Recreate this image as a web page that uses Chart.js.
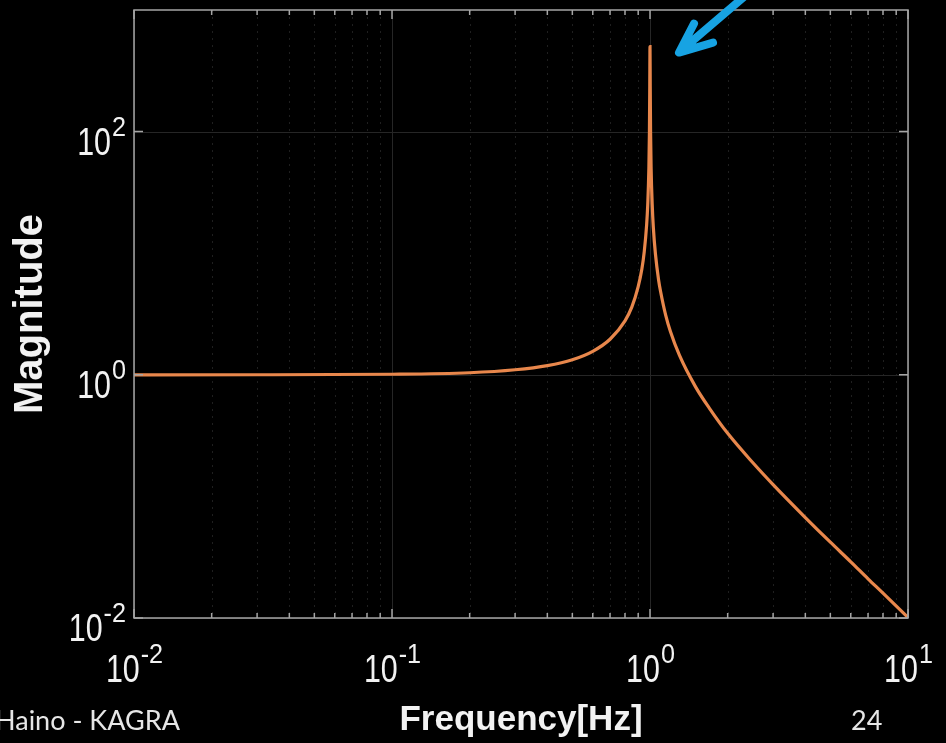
<!DOCTYPE html>
<html>
<head>
<meta charset="utf-8">
<script src="https://cdn.jsdelivr.net/npm/chart.js@4"></script>
<style>
  body { margin:0; background:#000; overflow:hidden; }
  #wrap { position:relative; width:946px; height:743px; }
  .foot { position:absolute; color:#e6e6e6; font-family: Lato, 'Open Sans', sans-serif; font-size:27px; line-height:30px; }
</style>
</head>
<body>
<div id="wrap">
  <canvas id="bode" width="946" height="743"></canvas>
  <div class="foot" style="left:-5px; top:705px">Haino - KAGRA</div>
  <div class="foot" style="left:851px; top:705px">24</div>
</div>
<script>
// frequency [Hz] and magnitude
const freq = [0.01, 0.03, 0.1, 0.2, 0.3, 0.4, 0.5, 0.6, 0.7, 0.8, 0.85, 0.9, 0.93, 0.95, 0.97, 0.98,
              0.99, 0.995, 0.998, 1.0, 1.002, 1.005, 1.01, 1.02, 1.03, 1.05, 1.08, 1.1, 1.15, 1.2,
              1.3, 1.5, 1.7, 2, 2.5, 3, 4, 5, 6, 7, 8, 10];
const mag  = [1.0, 1.001, 1.01, 1.04, 1.10, 1.19, 1.33, 1.56, 1.96, 2.78, 3.6, 5.3, 7.4, 10.3, 16.9, 25,
              50, 100, 240, 500, 240, 100, 50, 25, 16.4, 9.8, 6.0, 4.8, 3.1, 2.27,
              1.45, 0.8, 0.53, 0.33, 0.19, 0.125, 0.067, 0.042, 0.029, 0.021, 0.016, 0.0101];

const xMajor = [0.01, 0.1, 1, 10];
const xExp   = ['-2', '-1', '0', '1'];
const yMajor = [0.01, 1, 100];
const yExp   = ['-2', '0', '2'];

const LINE = '#e8874c';
const ARROW = '#17a3e3';
const FONT = '"Liberation Sans", Arial, sans-serif';

// minor positions 2..9 in each x decade
var xMinor = [];
[0.01, 0.1, 1].forEach(function(d){ for (var k = 2; k <= 9; k++) xMinor.push(k * d); });

function drawPow(ctx, exp, x, y, align) {
    // "10" in a narrowed face with the exponent raised
    ctx.save();
    ctx.textBaseline = 'alphabetic';
    ctx.textAlign = 'left';
    ctx.fillStyle = '#f2f2f2';
    ctx.font = '38px ' + FONT;
    var w10 = ctx.measureText('10').width * 0.8;
    ctx.font = '28px ' + FONT;
    var wE = ctx.measureText(exp).width * 0.9;
    var x0 = align === 'center' ? x - (w10 + wE) / 2 : x - (w10 + wE);

    ctx.save();
    ctx.translate(x0, y); ctx.scale(0.8, 1);
    ctx.font = '38px ' + FONT;
    ctx.fillText('10', 0, 0);
    ctx.restore();

    ctx.save();
    ctx.translate(x0 + w10 + 1, y - 19); ctx.scale(0.9, 1);
    ctx.font = '28px ' + FONT;
    ctx.fillText(exp, 0, 0);
    ctx.restore();
    ctx.restore();
}

const frame = {
    id: 'frame',
    beforeDatasetsDraw(chart) {
        const {ctx, chartArea: a, scales: {x, y}} = chart;
        ctx.save();
        // minor dotted grid
        ctx.strokeStyle = 'rgba(255,255,255,0.12)';
        ctx.lineWidth = 1;
        ctx.setLineDash([2, 5]);
        xMinor.forEach(function(v){
            var px = Math.round(x.getPixelForValue(v)) + 0.5;
            ctx.beginPath(); ctx.moveTo(px, a.top); ctx.lineTo(px, a.bottom); ctx.stroke();
        });
        // major grid
        ctx.setLineDash([]);
        ctx.strokeStyle = '#262626';
        xMajor.forEach(function(v){
            var px = Math.round(x.getPixelForValue(v)) + 0.5;
            ctx.beginPath(); ctx.moveTo(px, a.top); ctx.lineTo(px, a.bottom); ctx.stroke();
        });
        yMajor.forEach(function(v){
            var py = Math.round(y.getPixelForValue(v)) + 0.5;
            ctx.beginPath(); ctx.moveTo(a.left, py); ctx.lineTo(a.right, py); ctx.stroke();
        });
        ctx.restore();
    },
    afterDatasetsDraw(chart) {
        const {ctx, chartArea: a, scales: {x, y}} = chart;
        ctx.save();
        ctx.strokeStyle = '#a5a5a5';
        ctx.lineWidth = 1.5;
        // inward ticks
        ctx.beginPath();
        xMinor.forEach(function(v){
            var px = x.getPixelForValue(v);
            ctx.moveTo(px, a.bottom); ctx.lineTo(px, a.bottom - 5);
            ctx.moveTo(px, a.top); ctx.lineTo(px, a.top + 5);
        });
        xMajor.forEach(function(v){
            var px = x.getPixelForValue(v);
            ctx.moveTo(px, a.bottom); ctx.lineTo(px, a.bottom - 9);
            ctx.moveTo(px, a.top); ctx.lineTo(px, a.top + 9);
        });
        yMajor.forEach(function(v){
            var py = y.getPixelForValue(v);
            ctx.moveTo(a.left, py); ctx.lineTo(a.left + 9, py);
            ctx.moveTo(a.right, py); ctx.lineTo(a.right - 9, py);
        });
        ctx.stroke();
        ctx.strokeRect(a.left, a.top, a.right - a.left, a.bottom - a.top);
        ctx.restore();

        xMajor.forEach(function(v, i){ drawPow(ctx, xExp[i], x.getPixelForValue(v), 682, 'center'); });
        yMajor.forEach(function(v, i){ drawPow(ctx, yExp[i], 125, y.getPixelForValue(v) + 23, 'right'); });
    },
    afterDraw(chart) {
        // blue pointer at the resonance
        const {ctx, scales: {x, y}} = chart;
        var tx = x.getPixelForValue(1) + 29, ty = y.getPixelForValue(500) + 6;
        ctx.save();
        ctx.strokeStyle = ARROW;
        ctx.lineWidth = 8;
        ctx.lineCap = 'round';
        ctx.lineJoin = 'round';
        ctx.beginPath();
        ctx.moveTo(tx + 70, ty - 60); ctx.lineTo(tx + 2, ty - 2);
        ctx.moveTo(tx + 15, ty - 29); ctx.lineTo(tx, ty); ctx.lineTo(tx + 34, ty - 10);
        ctx.stroke();
        ctx.restore();
    }
};

new Chart('bode', {
    type: 'line',
    data: {
        datasets: [{
            data: freq.map(function(f, i){ return {x: f, y: mag[i]}; }),
            borderColor: LINE,
            borderWidth: 3.2,
            pointRadius: 0,
            cubicInterpolationMode: 'monotone',
            fill: false
        }]
    },
    options: {
        responsive: false,
        animation: false,
        layout: { padding: { top: 10, right: 38, left: 0, bottom: 0 } },
        plugins: { legend: { display: false }, tooltip: { enabled: false } },
        scales: {
            x: {
                type: 'logarithmic', min: 0.01, max: 10,
                grid: { display: false }, border: { display: false }, ticks: { display: false },
                title: { display: true, text: 'Frequency[Hz]', color: '#f2f2f2',
                         font: { family: FONT, size: 35, weight: 'bold' },
                         padding: { top: 0, bottom: 2 } },
                afterFit: function(s){ s.height = 125; }
            },
            y: {
                type: 'logarithmic', min: 0.01, max: 1000,
                grid: { display: false }, border: { display: false }, ticks: { display: false },
                title: { display: true, text: 'Magnitude', color: '#f2f2f2',
                         font: { family: FONT, size: 40, weight: 'bold' },
                         padding: { top: 7, bottom: 0 } },
                afterFit: function(s){ s.width = 134; }
            }
        }
    },
    plugins: [frame]
});
</script>
</body>
</html>
